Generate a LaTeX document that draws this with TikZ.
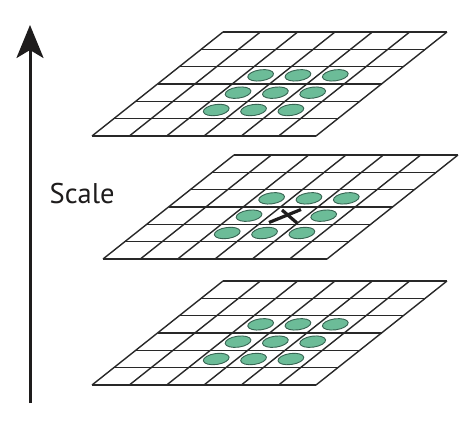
\documentclass[tikz,border=0pt]{standalone}
\usepackage{fontspec}
\setsansfont{PT Sans}
\usetikzlibrary{shapes.geometric,arrows.meta}
\definecolor{dotfill}{RGB}{108,188,152}
\definecolor{dotline}{RGB}{55,100,82}
\definecolor{gridgray}{RGB}{40,40,40}
\definecolor{textgray}{RGB}{30,28,28}
\tikzset{
  gridline/.style={draw=gridgray, line width=1.4pt},
  dot/.style={ellipse, draw=dotline, fill=dotfill, line width=0.9pt,
    minimum width=26pt, minimum height=11pt, inner sep=0pt, rotate=8},
  crossline/.style={draw=textgray, line width=3.2pt},
  scalearrow/.style={draw=textgray, line width=3pt,
    -{Stealth[length=33pt,width=27pt,inset=8pt]}},
  layer/.style={x={(37.333pt,0pt)}, y={(21.833pt,17.333pt)}}
}
\begin{document}
\begin{tikzpicture}[x=1pt,y=-1pt]
\useasboundingbox (0,0) rectangle (468,420);
\fill[white] (0,0) rectangle (468,420);

% top layer
\begin{scope}[shift={(92,136)}, layer]
  \fill[white] (0,0) -- (6,0) -- (6,6) -- (0,6) -- cycle;
  \foreach \k in {0,...,6} {
    \draw[gridline] (\k,0) -- (\k,6);
    \draw[gridline] (0,\k) -- (6,\k);
  }
  \foreach \u/\v/\n in {2.45/1.5/1, 3.45/1.5/2, 4.45/1.5/3,
                        2.45/2.5/4, 3.45/2.5/5, 4.45/2.5/6,
                        2.47/3.5/7, 3.47/3.5/8, 4.47/3.5/9}
    \node[dot] (top\n) at (\u,\v) {};
\end{scope}

% middle layer
\begin{scope}[shift={(103,259)}, layer]
  \fill[white] (0,0) -- (6,0) -- (6,6) -- (0,6) -- cycle;
  \foreach \k in {0,...,6} {
    \draw[gridline] (\k,0) -- (\k,6);
    \draw[gridline] (0,\k) -- (6,\k);
  }
  \foreach \u/\v/\n in {2.45/1.5/1, 3.45/1.5/2, 4.45/1.5/3,
                        2.45/2.5/4, 4.45/2.5/6,
                        2.47/3.5/7, 3.47/3.5/8, 4.47/3.5/9}
    \node[dot] (mid\n) at (\u,\v) {};
\end{scope}

% bottom layer
\begin{scope}[shift={(92,385)}, layer]
  \fill[white] (0,0) -- (6,0) -- (6,6) -- (0,6) -- cycle;
  \foreach \k in {0,...,6} {
    \draw[gridline] (\k,0) -- (\k,6);
    \draw[gridline] (0,\k) -- (6,\k);
  }
  \foreach \u/\v/\n in {2.45/1.5/1, 3.45/1.5/2, 4.45/1.5/3,
                        2.45/2.5/4, 3.45/2.5/5, 4.45/2.5/6,
                        2.47/3.5/7, 3.47/3.5/8, 4.47/3.5/9}
    \node[dot] (bot\n) at (\u,\v) {};
\end{scope}

% cross at the centre of the middle layer
\coordinate (crossA1) at (269,222.5);
\coordinate (crossA2) at (301,209.5);
\coordinate (crossB1) at (282,210);
\coordinate (crossB2) at (297,223);
\draw[crossline] (crossA1) -- (crossA2);
\draw[crossline] (crossB1) -- (crossB2);

% scale arrow
\coordinate (arrowfoot) at (30,403);
\coordinate (arrowtip) at (30,25);
\draw[scalearrow] (arrowfoot) -- (arrowtip);

\node[font=\sffamily\fontsize{28.5}{30}\selectfont, anchor=base west,
      inner sep=0pt, text=textgray] (scalelabel) at (49.5,203) {Scale};
\end{tikzpicture}
\end{document}
